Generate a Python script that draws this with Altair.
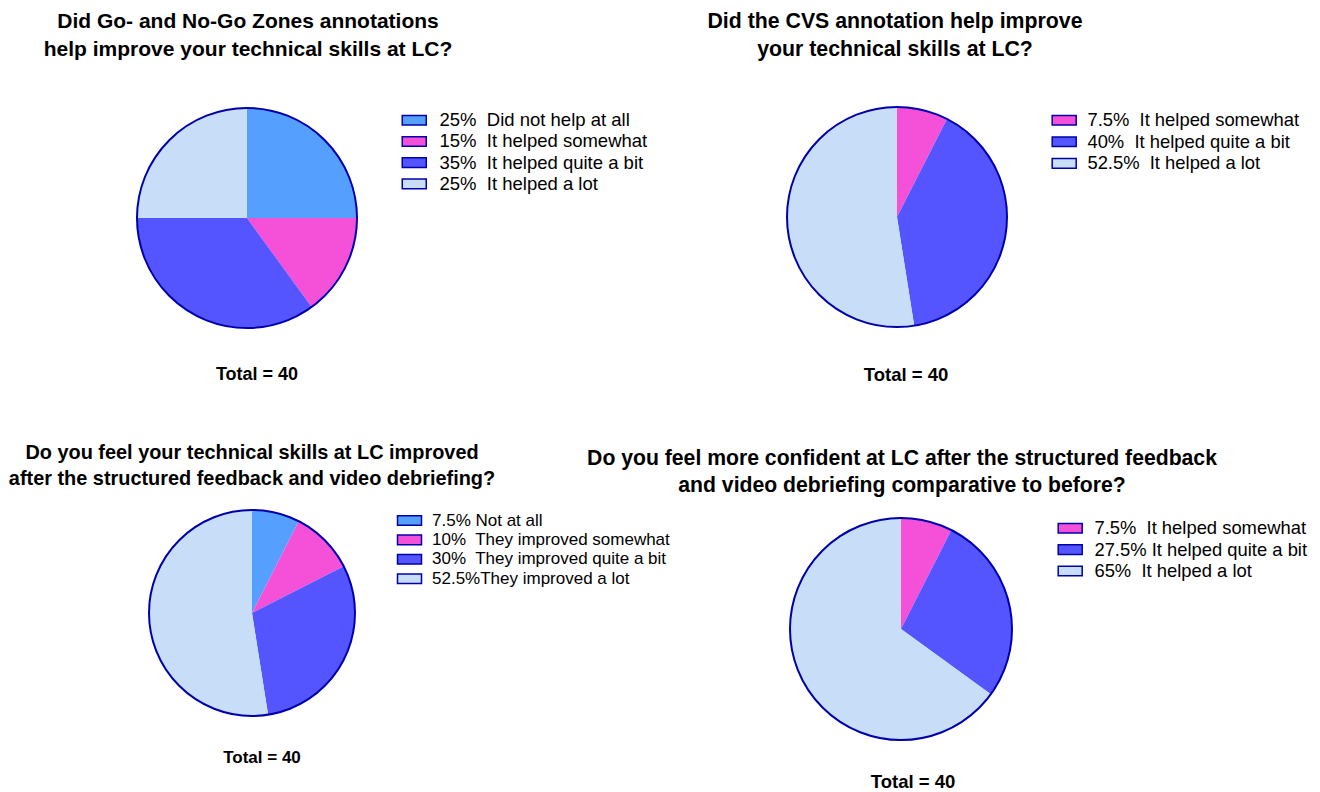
import altair as alt
import pandas as pd

# ---------------- data ----------------
titles = [
    "Did Go- and No-Go Zones annotations\nhelp improve your technical skills at LC?",
    "Did the CVS annotation help improve\nyour technical skills at LC?",
    "Do you feel your technical skills at LC improved\nafter the structured feedback and video debriefing?",
    "Do you feel more confident at LC after the structured feedback\nand video debriefing comparative to before?",
]
totals = [40, 40, 40, 40]

p1_labels = ["25%\u00a0 Did not help at all", "15%\u00a0 It helped somewhat",
             "35%\u00a0 It helped quite a bit", "25%\u00a0 It helped a lot"]
p1_values = [25, 15, 35, 25]

p2_labels = ["7.5%\u00a0 It helped somewhat", "40%\u00a0 It helped quite a bit",
             "52.5%\u00a0 It helped a lot"]
p2_values = [7.5, 40, 52.5]

p3_labels = ["7.5% Not at all", "10%\u00a0 They improved somewhat",
             "30%\u00a0 They improved quite a bit", "52.5%They improved a lot"]
p3_values = [7.5, 10, 30, 52.5]

p4_labels = ["7.5%\u00a0 It helped somewhat", "27.5% It helped quite a bit",
             "65%\u00a0 It helped a lot"]
p4_values = [7.5, 27.5, 65]

LIGHTBLUE = "#55A0FF"
PINK = "#F550D8"
BLUE = "#5555FF"
PALE = "#C8DDF7"
OUTLINE = "#0000AA"

p1_colors = [LIGHTBLUE, PINK, BLUE, PALE]
p2_colors = [PINK, BLUE, PALE]
p3_colors = [LIGHTBLUE, PINK, BLUE, PALE]
p4_colors = [PINK, BLUE, PALE]

# layout (positions in px)
panels = [
    dict(labels=p1_labels, values=p1_values, colors=p1_colors, cx=247, cy=218, r=110,
         tx=248, ty=28, tfs=21, tlh=28, totx=257, toty=375, totfs=18,
         lx=405, ly=111, lfs=18.5, lrp=2.2, lo=16),
    dict(labels=p2_labels, values=p2_values, colors=p2_colors, cx=897, cy=217, r=110,
         tx=895, ty=28, tfs=21.3, tlh=28, totx=906, toty=375, totfs=18.5,
         lx=1055, ly=111, lfs=18.4, lrp=2.6, lo=14),
    dict(labels=p3_labels, values=p3_values, colors=p3_colors, cx=252, cy=613, r=103,
         tx=252, ty=459, tfs=19.9, tlh=26, totx=262, toty=758, totfs=17,
         lx=401, ly=512, lfs=17, lrp=1.4, lo=14),
    dict(labels=p4_labels, values=p4_values, colors=p4_colors, cx=901, cy=629, r=111,
         tx=902, ty=465, tfs=21.2, tlh=27, totx=913, toty=782, totfs=18.5,
         lx=1061, ly=519, lfs=18.4, lrp=2.4, lo=15),
]

FONT = "Liberation Sans"
# wide rectangle symbol: small nominal size so the row height follows the label
RECT = "M-2,-0.8H2V0.8H-2Z"

layers = []
for i, p in enumerate(panels):
    df = pd.DataFrame({"label": p["labels"], "value": p["values"],
                       "idx": list(range(len(p["labels"])))})
    pie = alt.Chart(df).mark_arc(radius=p["r"]).encode(
        theta=alt.Theta("value:Q", stack=True),
        color=alt.Color(
            "label:N",
            scale=alt.Scale(domain=p["labels"], range=p["colors"]),
            legend=alt.Legend(
                orient="none", legendX=p["lx"], legendY=p["ly"], title=None,
                symbolType=RECT, symbolSize=144, symbolStrokeColor=OUTLINE,
                symbolStrokeWidth=1.5, symbolOpacity=1,
                labelFont=FONT, labelFontSize=p["lfs"], labelColor="black",
                labelLimit=400, rowPadding=p["lrp"], labelOffset=p["lo"],
            ),
        ),
        order=alt.Order("idx:Q"),
        x=alt.value(p["cx"]),
        y=alt.value(p["cy"]),
    )
    outline = alt.Chart(pd.DataFrame({"total": [totals[i]]})).mark_point(
        shape="circle", filled=False, size=4 * p["r"] ** 2,
        stroke=OUTLINE, strokeWidth=2, opacity=1,
    ).encode(x=alt.value(p["cx"]), y=alt.value(p["cy"]))
    title = alt.Chart(pd.DataFrame({"t": [titles[i]]})).mark_text(
        font=FONT, fontSize=p["tfs"], fontWeight="bold", align="center",
        baseline="alphabetic", lineBreak="\n", lineHeight=p["tlh"], color="black",
    ).encode(x=alt.value(p["tx"]), y=alt.value(p["ty"]), text="t:N")
    tot = alt.Chart(pd.DataFrame({"t": [f"Total = {totals[i]}"]})).mark_text(
        font=FONT, fontSize=p["totfs"], fontWeight="bold", align="center",
        baseline="middle", color="black",
    ).encode(x=alt.value(p["totx"]), y=alt.value(p["toty"]), text="t:N")
    layers += [pie, outline, title, tot]

chart = alt.layer(*layers).resolve_scale(
    color="independent", theta="independent"
).properties(
    width=1320, height=792, autosize="none", padding=0, background="white"
).configure_view(stroke=None)

chart.save("out.html", embed_options={"renderer": "svg", "actions": False})
